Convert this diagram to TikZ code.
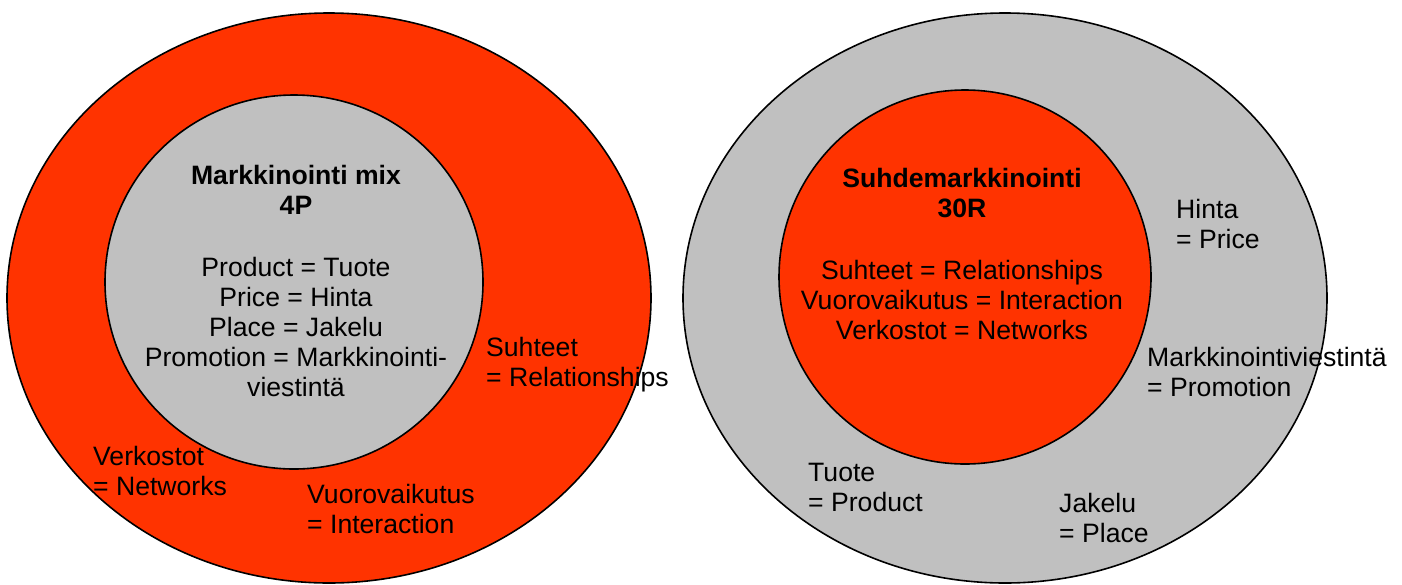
\documentclass[tikz,border=0pt]{standalone}
\usepackage{fontspec}
\setmainfont{Liberation Sans}
\definecolor{ringred}{RGB}{255,51,0}
\definecolor{ringgray}{RGB}{192,192,192}
\tikzset{
  ring/.style={draw=black, line width=1.6pt},
  lbl/.style={inner sep=0pt, align=left, anchor=north west,
    font=\fontsize{26.6}{30}\selectfont},
  core/.style={inner sep=0pt, align=center, anchor=north,
    font=\fontsize{26.6}{30}\selectfont},
}
\begin{document}
\begin{tikzpicture}[x=1pt, y=-1pt]
  \useasboundingbox (0,0) rectangle (1402,584);

  % traditional marketing mix: red ring around grey core
  \draw[ring, fill=ringred] (329,298) ellipse [x radius=322, y radius=285];
  \draw[ring, fill=ringgray] (294,282) ellipse [x radius=189, y radius=187];

  % relationship marketing: grey ring around red core
  \draw[ring, fill=ringgray] (1005,298) ellipse [x radius=322, y radius=285];
  \draw[ring, fill=ringred] (965,277) ellipse [x radius=186, y radius=187];

  % left diagram texts
  \node[core] (mix) at (296,165)
    {\textbf{Markkinointi mix}\\\textbf{4P}\\[32pt]
     Product = Tuote\\Price = Hinta\\Place = Jakelu\\
     Promotion = Markkinointi-\\viestintä};
  \node[lbl] (suhteetL) at (486,337) {Suhteet\\= Relationships};
  \node[lbl] (verkostotL) at (93,446) {Verkostot\\= Networks};
  \node[lbl] (vuoroL) at (307,484) {Vuorovaikutus\\= Interaction};

  % right diagram texts
  \node[core] (rel) at (962,168)
    {\textbf{Suhdemarkkinointi}\\\textbf{30R}\\[32pt]
     Suhteet = Relationships\\Vuorovaikutus = Interaction\\
     Verkostot = Networks};
  \node[lbl] (hintaR) at (1176,199) {Hinta\\= Price};
  \node[lbl] (promoR) at (1147,347) {Markkinointiviestintä\\= Promotion};
  \node[lbl] (tuoteR) at (808,463) {Tuote\\= Product};
  \node[lbl] (jakeluR) at (1059,493) {Jakelu\\= Place};
\end{tikzpicture}
\end{document}
